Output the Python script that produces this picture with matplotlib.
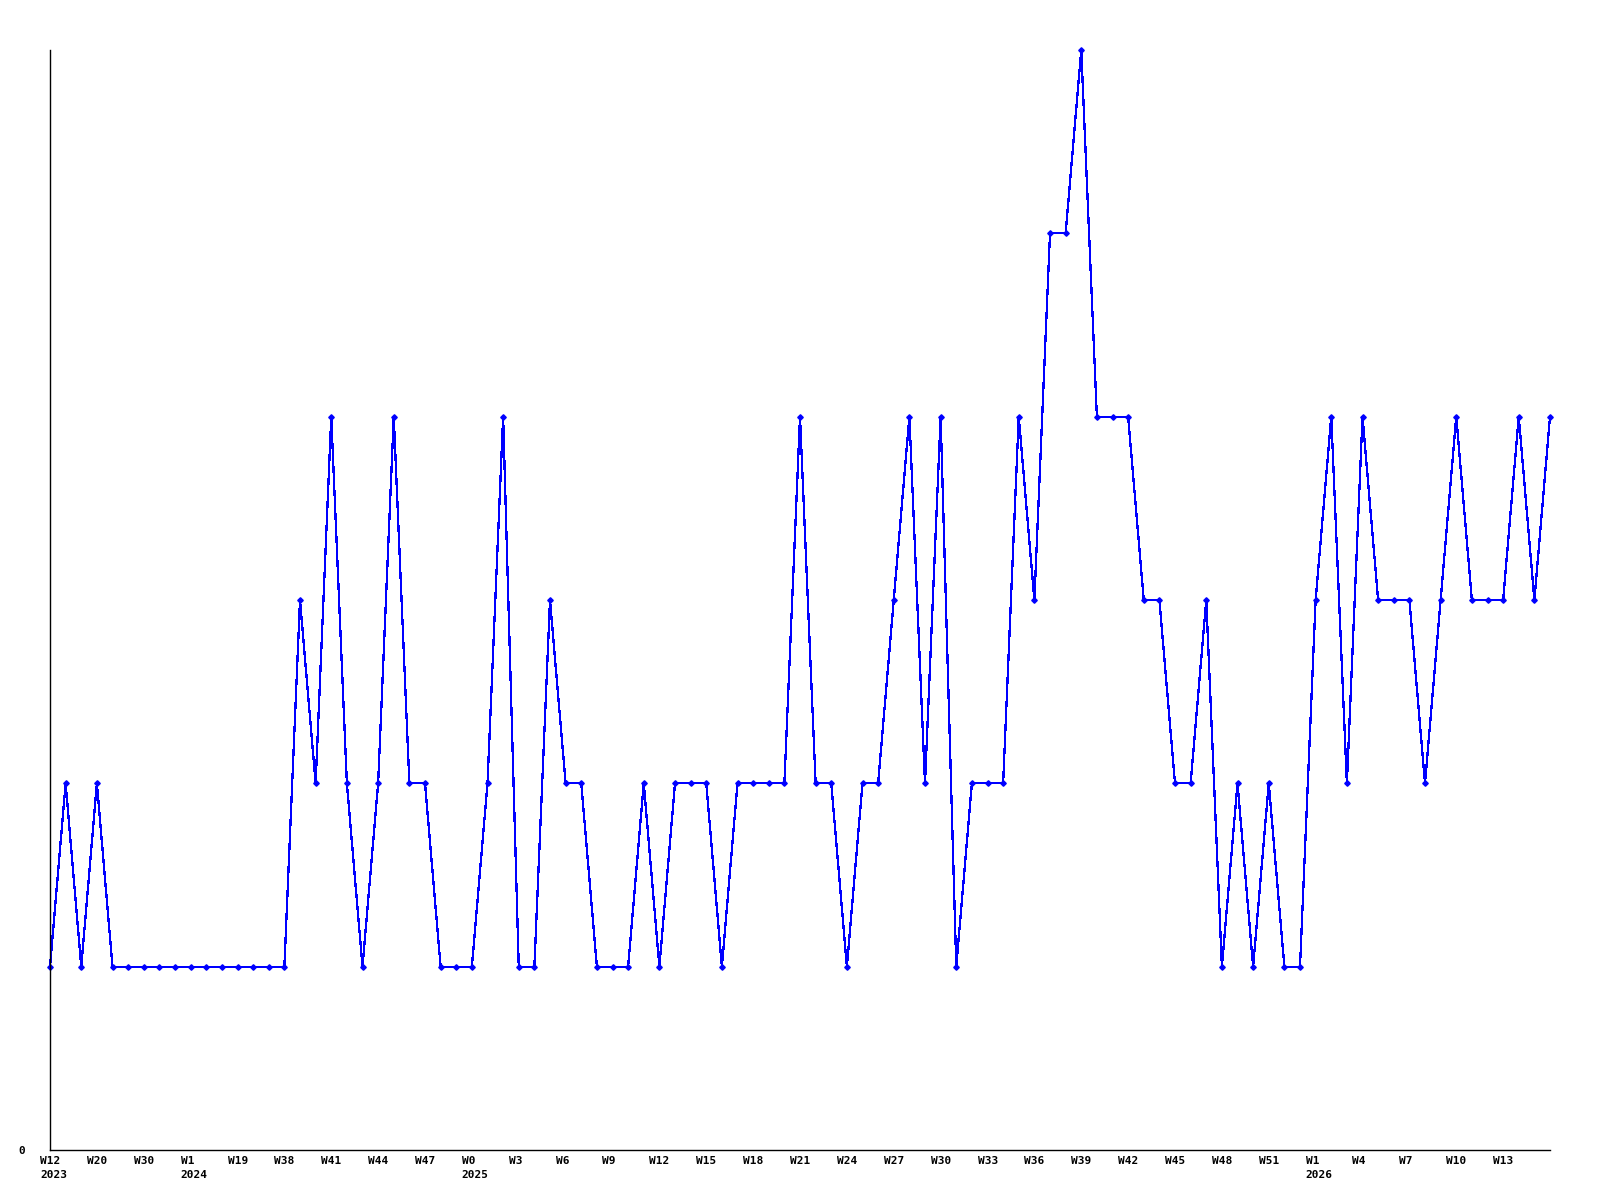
import matplotlib
matplotlib.use("Agg")
import matplotlib.pyplot as plt
import matplotlib.transforms as mtransforms
import numpy as np

# weekly values, 97 weeks
values = [1, 2, 1, 2, 1, 1, 1, 1, 1, 1, 1, 1, 1, 1, 1, 1,
          3, 2, 4, 2, 1, 2, 4, 2, 2, 1, 1, 1, 2, 4, 1, 1,
          3, 2, 2, 1, 1, 1, 2, 1, 2, 2, 2, 1, 2, 2, 2, 2,
          4, 2, 2, 1, 2, 2, 3, 4, 2, 4, 1, 2, 2, 2, 4, 3,
          5, 5, 6, 4, 4, 4, 3, 3, 2, 2, 3, 1, 2, 1, 2, 1,
          1, 3, 4, 2, 4, 3, 3, 3, 2, 3, 4, 3, 3, 3, 4, 3,
          4]

# a label every 3 weeks
tick_labels = ["W12\n2023", "W20", "W30", "W1\n2024", "W19", "W38", "W41", "W44",
               "W47", "W0\n2025", "W3", "W6", "W9", "W12", "W15", "W18", "W21",
               "W24", "W27", "W30", "W33", "W36", "W39", "W42", "W45", "W48",
               "W51", "W1\n2026", "W4", "W7", "W10", "W13"]

x = np.arange(len(values))

fig = plt.figure(figsize=(16, 12), dpi=100)
ax = fig.add_axes([50 / 1600, 50 / 1200, 1500 / 1600, 1100 / 1200])

ax.plot(x, values, color="#0000ff", linewidth=0.9, marker="D", markersize=2.8,
        antialiased=False, clip_on=False)

ax.set_xlim(0, len(values) - 1)
ax.set_ylim(0, 6)

# week labels start ~10px left of their week, a little below the axis
ax.set_xticks([])
shift = mtransforms.ScaledTranslation(-10 / 100, -6 / 100, fig.dpi_scale_trans)
for i, lab in enumerate(tick_labels):
    ax.text(i * 3, 0, lab, transform=ax.get_xaxis_transform() + shift,
            fontsize=8, fontfamily="DejaVu Sans Mono", fontweight="bold",
            linespacing=1.45, ha="left", va="top", clip_on=False)

ax.set_yticks([0])
ax.set_yticklabels(["0"], fontsize=8, fontfamily="DejaVu Sans Mono", fontweight="bold")
ax.tick_params(axis="both", length=0)
ax.tick_params(axis="y", pad=18)

for s in ["top", "right"]:
    ax.spines[s].set_visible(False)
for s in ["left", "bottom"]:
    ax.spines[s].set_linewidth(1.0)
    ax.spines[s].set_color("black")

fig.savefig("out.png", dpi=100)
